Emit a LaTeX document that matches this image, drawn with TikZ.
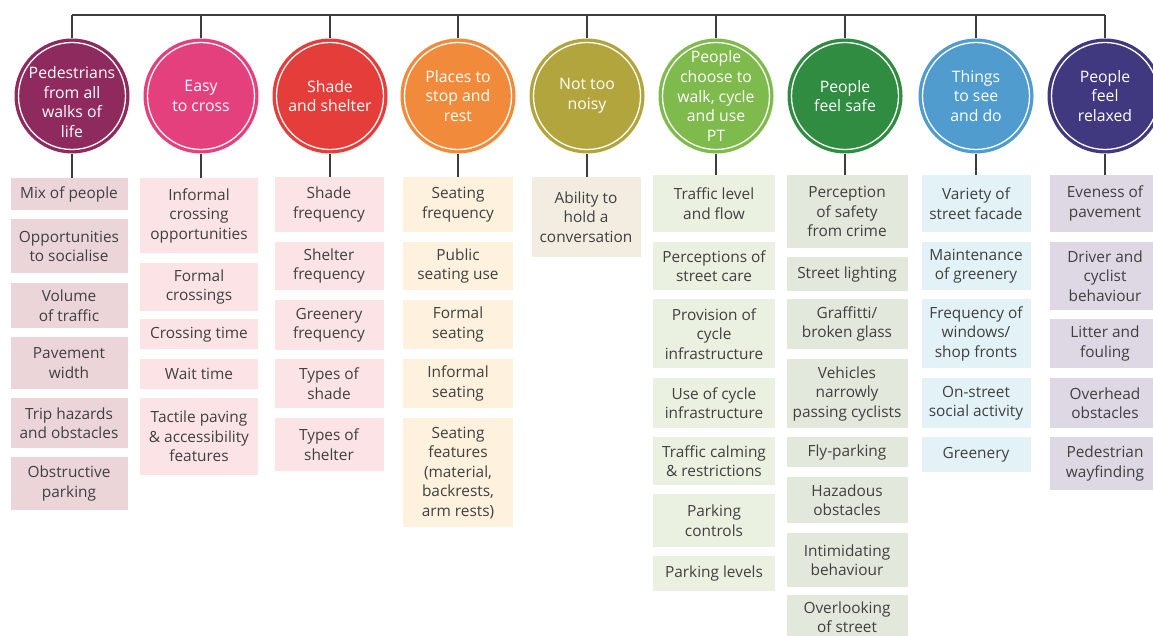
\documentclass[tikz,border=0pt]{standalone}
\usepackage{fontspec}
\setmainfont{Open Sans}
\definecolor{c1}{HTML}{8E2A5E}\definecolor{b1}{HTML}{EBD5D9}
\definecolor{c2}{HTML}{E5407E}\definecolor{b2}{HTML}{FCE3E6}
\definecolor{c3}{HTML}{E43D3A}\definecolor{b3}{HTML}{FCE3E5}
\definecolor{c4}{HTML}{F18B3B}\definecolor{b4}{HTML}{FEF1DD}
\definecolor{c5}{HTML}{B3A53D}\definecolor{b5}{HTML}{F2EDE0}
\definecolor{c6}{HTML}{7FBA4C}\definecolor{b6}{HTML}{EBF1E1}
\definecolor{c7}{HTML}{2F8C40}\definecolor{b7}{HTML}{E2E9DC}
\definecolor{c8}{HTML}{509CCF}\definecolor{b8}{HTML}{E3F2F6}
\definecolor{c9}{HTML}{40397F}\definecolor{b9}{HTML}{DDD8E3}
\definecolor{txt}{HTML}{404040}
\definecolor{lin}{HTML}{3D3D3D}
\begin{document}
\begin{tikzpicture}[x=1pt,y=-1pt,
  circ/.style={circle, minimum size=115pt, inner sep=0pt},
  ctext/.style={inner sep=0pt, text=white, align=center,
    font=\fontsize{15.8}{19.5}\selectfont},
  ring/.style={white, line width=1.3pt},
  box/.style={rectangle, inner sep=0pt, anchor=north, align=center, text=txt,
    font=\fontsize{15.4}{19.5}\selectfont},
  conn/.style={lin, line width=1.5pt},
  col1/.style={box, fill=b1, minimum width=117pt},
  col2/.style={box, fill=b2, minimum width=118pt},
  col3/.style={box, fill=b3, minimum width=109pt},
  col4/.style={box, fill=b4, minimum width=110pt},
  col5/.style={box, fill=b5, minimum width=109pt},
  col6/.style={box, fill=b6, minimum width=122pt},
  col7/.style={box, fill=b7, minimum width=121pt},
  col8/.style={box, fill=b8, minimum width=109pt},
  col9/.style={box, fill=b9, minimum width=110pt}]
\useasboundingbox (0,0) rectangle (1153,636);
\clip (0,0) rectangle (1153,636);
\fill[white] (0,0) rectangle (1153,636);
% circles
\node[circ, fill=c1] (c1) at (72,96) {};
\node[circ, fill=c2] (c2) at (201,96) {};
\node[circ, fill=c3] (c3) at (330,96) {};
\node[circ, fill=c4] (c4) at (458,96) {};
\node[circ, fill=c5] (c5) at (587,96) {};
\node[circ, fill=c6] (c6) at (716,96) {};
\node[circ, fill=c7] (c7) at (845,96) {};
\node[circ, fill=c8] (c8) at (976,96) {};
\node[circ, fill=c9] (c9) at (1105,96) {};
\foreach \k in {1,...,9} {\draw[ring] (c\k.center) circle[radius=53.5pt];}
\node[ctext] (t1x) at ([yshift=-6pt]c1.center) {Pedestrians\\from all\\walks of\\life};
\node[ctext] (t2x) at (c2.center) {Easy\\to cross};
\node[ctext] (t3x) at (c3.center) {Shade\\and shelter};
\node[ctext] (t4x) at (c4.center) {Places to\\stop and\\rest};
\node[ctext] (t5x) at (c5.center) {Not too\\noisy};
\node[ctext] (t6x) at (c6.center) {People\\choose to\\walk, cycle\\and use\\PT};
\node[ctext] (t7x) at (c7.center) {People\\feel safe};
\node[ctext] (t8x) at (c8.center) {Things\\to see\\and do};
\node[ctext] (t9x) at (c9.center) {People\\feel\\relaxed};
% column 1
\node[col1, minimum height=32pt] (b11) at (69,178) {Mix of people};
\node[col1, minimum height=54pt] (b12) at (69,219) {Opportunities\\to socialise};
\node[col1, minimum height=45pt] (b13) at (69,283) {Volume\\of traffic};
\node[col1, minimum height=52pt] (b14) at (69,337) {Pavement\\width};
\node[col1, minimum height=50pt] (b15) at (69,398) {Trip hazards\\and obstacles};
\node[col1, minimum height=53pt] (b16) at (69,457) {Obstructive\\parking};
% column 2
\node[col2, minimum height=75pt] (b21) at (199,178) {Informal\\crossing\\opportunities};
\node[col2, minimum height=48pt] (b22) at (199,263) {Formal\\crossings};
\node[col2, minimum height=30pt] (b23) at (199,319) {Crossing time};
\node[col2, minimum height=30pt] (b24) at (199,359) {Wait time};
\node[col2, minimum height=77pt] (b25) at (199,398) {Tactile paving\\\& accessibility\\features};
% column 3
\node[col3, minimum height=55pt] (b31) at (329,177) {Shade\\frequency};
\node[col3, minimum height=48pt] (b32) at (329,242) {Shelter\\frequency};
\node[col3, minimum height=50pt] (b33) at (329,300) {Greenery\\frequency};
\node[col3, minimum height=49pt] (b34) at (329,359) {Types of\\shade};
\node[col3, minimum height=53pt] (b35) at (329,418) {Types of\\shelter};
% column 4
\node[col4, minimum height=55pt] (b41) at (458,177) {Seating\\frequency};
\node[col4, minimum height=48pt] (b42) at (458,242) {Public\\seating use};
\node[col4, minimum height=49pt] (b43) at (458,300) {Formal\\seating};
\node[col4, minimum height=49pt] (b44) at (458,359) {Informal\\seating};
\node[col4, minimum height=109pt] (b45) at (458,418) {Seating\\features\\(material,\\backrests,\\arm rests)};
% column 5
\node[col5, minimum height=80pt] (b51) at (586,177) {Ability to\\hold a\\conversation};
% column 6
\node[col6, minimum height=57pt] (b61) at (714,175) {Traffic level\\and flow};
\node[col6, minimum height=48pt] (b62) at (714,242) {Perceptions of\\street care};
\node[col6, minimum height=69pt] (b63) at (714,299) {Provision of\\cycle\\infrastructure};
\node[col6, minimum height=50pt] (b64) at (714,378) {Use of cycle\\infrastructure};
\node[col6, minimum height=48pt] (b65) at (714,437) {Traffic calming\\\& restrictions};
\node[col6, minimum height=53pt] (b66) at (714,494) {Parking\\controls};
\node[col6, minimum height=35pt] (b67) at (714,556) {Parking levels};
% column 7
\node[col7, minimum height=73pt] (b71) at (847,175) {Perception\\of safety\\from crime};
\node[col7, minimum height=34pt] (b72) at (847,257) {Street lighting};
\node[col7, minimum height=50pt] (b73) at (847,299) {Graffitti/\\broken glass};
\node[col7, minimum height=69pt] (b74) at (847,359) {Vehicles\\narrowly\\passing cyclists};
\node[col7, minimum height=30pt] (b75) at (847,437) {Fly-parking};
\node[col7, minimum height=46pt] (b76) at (847,477) {Hazadous\\obstacles};
\node[col7, minimum height=54pt] (b77) at (847,533) {Intimidating\\behaviour};
\node[col7, minimum height=44pt] (b78) at (847,595) {Overlooking\\of street};
% column 8
\node[col8, minimum height=57pt] (b81) at (976,175) {Variety of\\street facade};
\node[col8, minimum height=48pt] (b82) at (976,242) {Maintenance\\of greenery};
\node[col8, minimum height=69pt] (b83) at (976,299) {Frequency of\\windows/\\shop fronts};
\node[col8, minimum height=50pt] (b84) at (976,378) {On-street\\social activity};
\node[col8, minimum height=35pt] (b85) at (976,437) {Greenery};
% column 9
\node[col9, minimum height=57pt] (b91) at (1105,175) {Eveness of\\pavement};
\node[col9, minimum height=68pt] (b92) at (1105,242) {Driver and\\cyclist\\behaviour};
\node[col9, minimum height=49pt] (b93) at (1105,319) {Litter and\\fouling};
\node[col9, minimum height=50pt] (b94) at (1105,378) {Overhead\\obstacles};
\node[col9, minimum height=53pt] (b95) at (1105,437) {Pedestrian\\wayfinding};
\fill[b7] (b78.south west) rectangle ++(121,10);
% connectors
\coordinate (t1) at (72,15);
\coordinate (t9) at (1105,15);
\draw[conn] (t1) -- (t9);
\foreach \k in {1,...,9} {
  \draw[conn] (c\k.north) -- (c\k.north |- t1);
  \draw[conn] (c\k.south) -- (c\k.south |- b\k1.north);
}
\end{tikzpicture}
\end{document}
